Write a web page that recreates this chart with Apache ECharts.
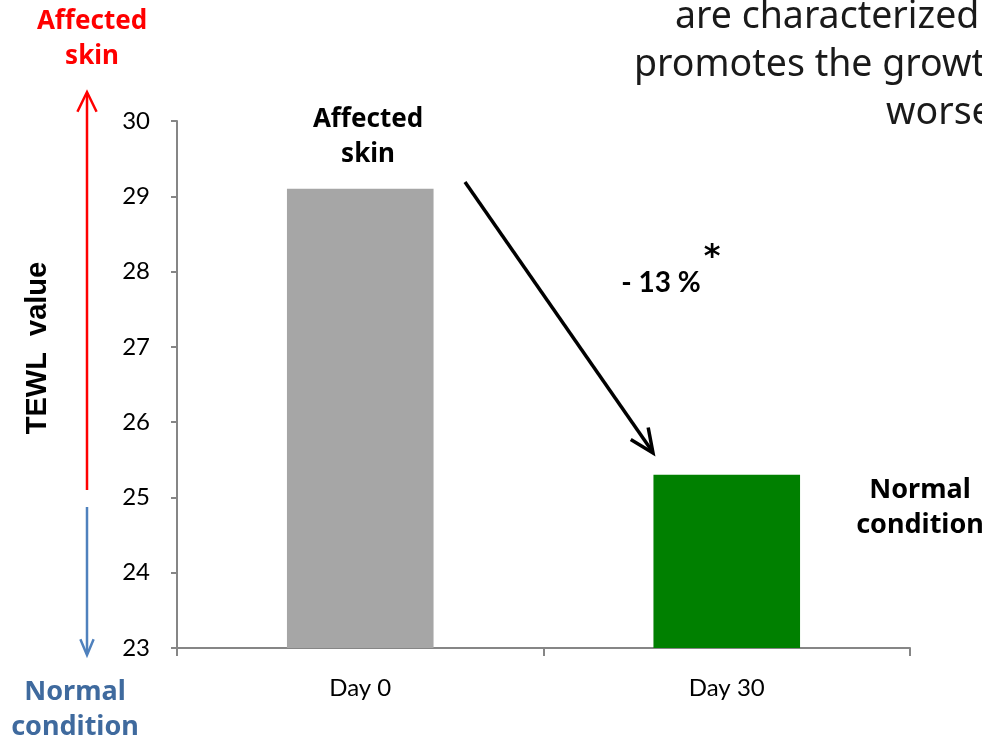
<!DOCTYPE html>
<html>
<head>
<meta charset="utf-8">
<script src="https://cdn.jsdelivr.net/npm/echarts@6/dist/echarts.min.js"></script>
<style>
  html, body { margin: 0; padding: 0; background: #fff; }
  #chart { width: 982px; height: 739px; }
</style>
</head>
<body>
<div id="chart"></div>
<script>
// TEWL measurements, before and after 30 days
const categories = ['Day 0', 'Day 30'];
const tewlValues = [29.1, 25.3];
const barColors = ['#a6a6a6', '#008000'];
const yMin = 23, yMax = 30, yStep = 1;

const chart = echarts.init(document.getElementById('chart'), null, { renderer: 'canvas' });

const boldFont = '"Noto Sans", "DejaVu Sans", sans-serif';
const bodyFont = 'Lato, "Open Sans", sans-serif';

// open V arrowhead at (tx, ty) for a shaft coming from (fx, fy)
function arrowHead(fx, fy, tx, ty, len, spread, color, width) {
  const a = Math.atan2(ty - fy, tx - fx);
  const p1 = [tx - len * Math.cos(a - spread), ty - len * Math.sin(a - spread)];
  const p2 = [tx - len * Math.cos(a + spread), ty - len * Math.sin(a + spread)];
  return {
    type: 'polyline',
    shape: { points: [p1, [tx, ty], p2] },
    style: { stroke: color, lineWidth: width, fill: null }
  };
}

function shaft(x1, y1, x2, y2, color, width) {
  return {
    type: 'line',
    shape: { x1, y1, x2, y2 },
    style: { stroke: color, lineWidth: width }
  };
}

function label(x, y, text, opts) {
  return {
    type: 'text',
    x, y,
    style: Object.assign({
      text,
      fill: '#000',
      align: 'center',
      verticalAlign: 'middle',
      font: 'bold 26px ' + boldFont
    }, opts || {})
  };
}

function slideLine(x, y, text) {
  return {
    type: 'text', x, y,
    style: { text, fill: '#1a1a1a', align: 'left', verticalAlign: 'middle',
             font: '37.5px "Noto Sans", "Open Sans", sans-serif' }
  };
}

chart.setOption({
  animation: false,
  backgroundColor: '#ffffff',
  grid: { left: 177, right: 72, top: 121, bottom: 91 },
  xAxis: {
    type: 'category',
    data: categories,
    boundaryGap: true,
    axisLine: { lineStyle: { color: '#868686', width: 2 } },
    axisTick: { show: true, length: 8, lineStyle: { color: '#868686', width: 2 } },
    axisLabel: { color: '#000', fontSize: 24, fontFamily: bodyFont, margin: 28 }
  },
  yAxis: {
    type: 'value',
    min: yMin,
    max: yMax,
    interval: yStep,
    splitLine: { show: false },
    axisLine: { show: true, lineStyle: { color: '#868686', width: 2 } },
    axisTick: { show: true, length: 6, lineStyle: { color: '#868686', width: 2 } },
    axisLabel: { color: '#000', fontSize: 24, fontFamily: bodyFont, margin: 27 }
  },
  series: [{
    type: 'bar',
    barWidth: '40%',
    data: tewlValues.map((v, i) => ({ value: v, itemStyle: { color: barColors[i] } }))
  }],
  graphic: [
    // scale direction arrows beside the value axis
    shaft(87, 490, 87, 93, '#ff0000', 2.5),
    arrowHead(87, 490, 87, 92, 22, 0.45, '#ff0000', 2.5),
    shaft(87, 507, 87, 654, '#4f81bd', 2.5),
    arrowHead(87, 507, 87, 655, 17, 0.4, '#4f81bd', 2.5),
    label(92, 22, 'Affected', { fill: '#ff0000' }),
    label(92, 57, 'skin', { fill: '#ff0000' }),
    label(75, 692, 'Normal', { fill: '#3f6a9e', font: 'bold 27px ' + boldFont }),
    label(75, 727, 'condition', { fill: '#3f6a9e', font: 'bold 27px ' + boldFont }),
    {
      type: 'text',
      x: 38, y: 348,
      rotation: Math.PI / 2,
      style: {
        text: 'TEWL  value',
        fill: '#000',
        align: 'center',
        verticalAlign: 'middle',
        font: 'bold 29px "Liberation Sans", Arial, sans-serif'
      }
    },
    // bar annotations
    label(368, 120, 'Affected'),
    label(368, 155, 'skin'),
    label(920, 490, 'Normal', { font: 'bold 27px ' + boldFont }),
    label(920, 525, 'condition', { font: 'bold 27px ' + boldFont }),
    // change arrow between the two bars
    shaft(465, 182, 652, 451, '#000', 3.5),
    arrowHead(465, 182, 653, 453, 26, 0.42, '#000', 3.5),
    label(661, 283, '- 13 %', { font: 'bold 28px ' + bodyFont }),
    label(712, 258, '*', { font: 'bold 32px "DejaVu Sans", sans-serif' }),
    // slide text at the top right
    slideLine(675, 17, 'are characterized'),
    slideLine(634, 65, 'promotes the growth'),
    slideLine(886, 113, 'worse')
  ]
});
</script>
</body>
</html>
